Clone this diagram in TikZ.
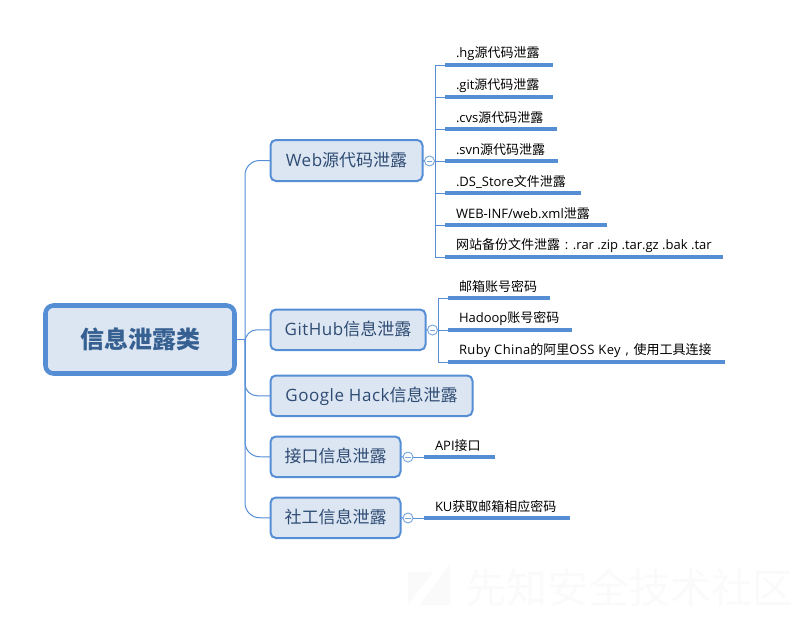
\documentclass[tikz,border=0pt]{standalone}
\usepackage{fontspec}
\setmainfont{Noto Sans CJK SC}
\newfontfamily\latinpart{Open Sans}
\newfontfamily\latinwide[LetterSpace=3]{Open Sans}
\newcommand{\la}[1]{{\latinpart #1}}
\newcommand{\lw}[1]{{\latinwide #1}}
\newcommand{\widepunct}[1]{\makebox[1em][c]{\latinpart #1}}
\definecolor{lineblue}{HTML}{558ED5}
\definecolor{boxfill}{HTML}{DCE6F2}
\definecolor{boxtext}{HTML}{2E4B73}
\definecolor{roottext}{HTML}{376092}
\definecolor{marktext}{HTML}{FAFAFA}
\tikzset{
  rootbox/.style={draw=lineblue,fill=boxfill,line width=3.4pt,rounded corners=6pt,inner sep=0pt,outer sep=0pt,text=roottext,font=\fontsize{18}{18}\selectfont\bfseries},
  topicbox/.style={draw=lineblue,fill=boxfill,line width=1.5pt,rounded corners=4pt,inner sep=0pt,outer sep=0pt,text=boxtext,font=\fontsize{12.75}{14}\selectfont},
  conn/.style={draw=lineblue,line width=0.75pt},
  under/.style={draw=lineblue,line width=2.3pt},
  leaf/.style={anchor=west,inner sep=0pt,outer sep=0pt,text=black,font=\fontsize{9.75}{11}\selectfont},
  fold/.style={circle,draw=lineblue!80,fill=white,line width=0.7pt,minimum size=7.5pt,inner sep=0pt,outer sep=0pt},
  markword/.style={anchor=west,inner sep=0pt,text=marktext,font=\fontsize{30.8}{32}\selectfont}
}
\newcommand{\topicnode}[6]{\node[topicbox,minimum width={(#4-#2)*0.75pt},minimum height={(#5-#3)*0.75pt},text depth=0pt,text height=0pt] (#1) at ({(#2+#4)/2},{(#3+#5)/2}) {\raisebox{-0.36em}{#6}};}
\newcommand{\leafnode}[6]{%
  \coordinate (#1-a) at (#2,#4);
  \coordinate (#1-b) at (#3,#4);
  \draw[under] (#1-a) -- (#1-b);
  \node[leaf] (#1) at (#5,#4-11.5) {#6};}
\newcommand{\foldnode}[3]{%
  \node[fold] (#1) at (#2,#3) {};
  \draw[draw=lineblue!80,line width=0.6pt] ([xshift=-2pt]#1.center) -- ([xshift=2pt]#1.center);}
\begin{document}
\begin{tikzpicture}[x=0.75pt,y=-0.75pt]
\useasboundingbox (0,0) rectangle (811,619);
% watermark
\fill[marktext] (408,572) -- (433,572) -- (408,605) -- cycle;
\fill[marktext] (450,564) -- (450,605) -- (420,605) -- cycle;
\node[markword] (mark) at (465,588) {先知安全技术社区};
% topics
\node[rootbox,minimum width={189*0.75pt},minimum height={68*0.75pt}] (root) at (140,339.5) {信息泄露类};
\topicnode{web}{270.5}{140}{422.5}{181}{\lw{Web}源代码泄露}
\topicnode{github}{270.5}{309.5}{425.5}{350}{\lw{GitHub}信息泄露}
\topicnode{google}{270.5}{375.5}{472.5}{416}{\lw{Google Hack}信息泄露}
\topicnode{api}{270.5}{436.5}{400.5}{477}{接口信息泄露}
\topicnode{social}{270.5}{497.5}{400.5}{538}{社工信息泄露}
% root connectors
\coordinate (spine) at (245,339.5);
\draw[conn] (root.east) -- (spine);
\draw[conn,rounded corners=11pt] (spine) |- (web.west);
\draw[conn,rounded corners=9pt] (spine) |- (github.west);
\draw[conn,rounded corners=9pt] (spine) |- (google.west);
\draw[conn,rounded corners=11pt] (spine) |- (api.west);
\draw[conn,rounded corners=11pt] (spine) |- (social.west);
% leaves
\leafnode{w1}{445}{553}{65}{456}{\la{.hg}源代码泄露}
\leafnode{w2}{445}{553}{97}{456}{\la{.git}源代码泄露}
\leafnode{w3}{445}{557}{129}{456}{\la{.cvs}源代码泄露}
\leafnode{w4}{445}{558}{161}{456}{\la{.svn}源代码泄露}
\leafnode{w5}{445}{581}{193}{456}{\la{.DS\_Store}文件泄露}
\leafnode{w6}{445}{607}{225}{456}{\la{WEB-INF/web.xml}泄露}
\leafnode{w7}{445}{723}{257}{456}{网站备份文件泄露\widepunct{:}\la{.rar .zip .tar.gz .bak .tar}}
\leafnode{g1}{448}{550}{298}{459}{邮箱账号密码}
\leafnode{g2}{448}{572}{330}{459}{\la{Hadoop}账号密码}
\leafnode{g3}{448}{725}{362}{459}{\lw{Ruby China}的阿里\lw{OSS Key}\widepunct{,}使用工具连接}
\leafnode{a1}{424}{495}{457}{435}{\la{API}接口}
\leafnode{s1}{424}{570}{518}{435}{\la{KU}获取邮箱相应密码}
% folds and leaf connectors
\foldnode{fw}{429.5}{161}
\foldnode{fg}{432.5}{330}
\foldnode{fa}{408}{457}
\foldnode{fs}{408}{518}
\coordinate (wb) at (435.5,161);
\coordinate (gb) at (438.5,330);
\draw[conn] (web.east) -- (fw.west);
\draw[conn] (github.east) -- (fg.west);
\draw[conn] (api.east) -- (fa.west);
\draw[conn] (social.east) -- (fs.west);
\draw[conn] (fw.east) -- (w4-a);
\draw[conn] (fg.east) -- (g2-a);
\draw[conn] (fa.east) -- (a1-a);
\draw[conn] (fs.east) -- (s1-a);
\foreach \n in {w1,w2,w3,w5,w6,w7}{\draw[conn] (wb) |- (\n-a);}
\foreach \n in {g1,g3}{\draw[conn] (gb) |- (\n-a);}
\end{tikzpicture}
\end{document}
